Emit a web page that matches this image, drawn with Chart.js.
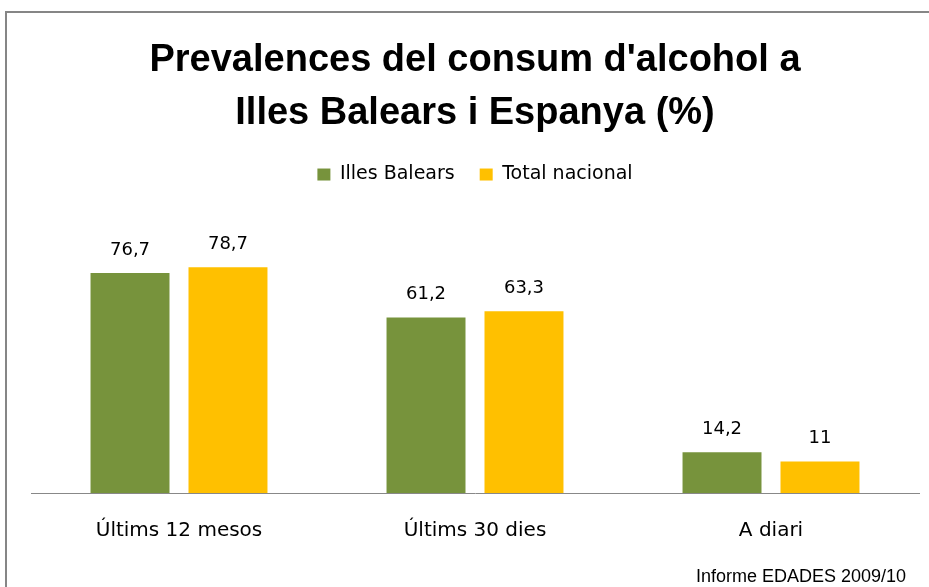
<!DOCTYPE html>
<html>
<head>
<meta charset="utf-8">
<script src="https://cdn.jsdelivr.net/npm/chart.js@4"></script>
<style>
  html, body { margin: 0; padding: 0; background: #fff; }
  #wrap { width: 929px; height: 587px; position: relative; }
</style>
</head>
<body>
<div id="wrap"><canvas id="chart" width="929" height="587"></canvas></div>
<script>
// categories and series
const categories = ["Últims 12 mesos", "Últims 30 dies", "A diari"];
const illesBalears = [76.7, 61.2, 14.2];
const totalNacional = [78.7, 63.3, 11];
const seriesNames = ["Illes Balears", "Total nacional"];
const titleLines = ["Prevalences del consum d'alcohol a", "Illes Balears i Espanya (%)"];
const sourceNote = "Informe EDADES 2009/10";

const FONT = "'Liberation Sans', Arial, sans-serif";
const WIDE = "'DejaVu Sans', sans-serif";

// frame round the whole chart (goes off the right and bottom edge)
const framePlugin = {
    id: "frame",
    beforeDraw(chart) {
        const ctx = chart.ctx;
        ctx.save();
        ctx.strokeStyle = "#868686";
        ctx.lineWidth = 2;
        ctx.strokeRect(6, 12, 960, 620);
        ctx.restore();
    }
};

// numbers above the bars, with a comma as decimal mark
const valueLabels = {
    id: "valueLabels",
    afterDatasetsDraw(chart) {
        const ctx = chart.ctx;
        ctx.save();
        ctx.font = "18px " + WIDE;
        ctx.fillStyle = "#000";
        ctx.textAlign = "center";
        ctx.textBaseline = "alphabetic";
        chart.data.datasets.forEach((ds, i) => {
            chart.getDatasetMeta(i).data.forEach((bar, j) => {
                const txt = String(ds.data[j]).replace(".", ",");
                ctx.fillText(txt, bar.x, bar.y - 18);
            });
        });
        ctx.restore();
    }
};

// source note bottom right
const sourcePlugin = {
    id: "source",
    afterDraw(chart) {
        const ctx = chart.ctx;
        ctx.save();
        ctx.font = "18px " + FONT;
        ctx.fillStyle = "#000";
        ctx.textAlign = "right";
        ctx.textBaseline = "alphabetic";
        ctx.fillText(sourceNote, 906, 582);
        ctx.restore();
    }
};

const data = {
    labels: categories,
    datasets: [{
            label: seriesNames[0],
            data: illesBalears,
            backgroundColor: "#77933C",
            borderWidth: 0
        },
        {
            label: seriesNames[1],
            data: totalNacional,
            backgroundColor: "#FFC000",
            borderWidth: 0
        }
    ]
};

const config = {
    type: "bar",
    data: data,
    options: {
        responsive: false,
        animation: false,
        categoryPercentage: 0.662,
        barPercentage: 0.806,
        layout: {
            padding: { left: 31, right: 10, top: 0, bottom: 18 }
        },
        plugins: {
            title: {
                display: true,
                text: titleLines,
                color: "#000",
                font: { family: FONT, size: 38, weight: "bold", lineHeight: 1.395 },
                padding: { top: 34, bottom: 0 }
            },
            legend: {
                display: true,
                position: "top",
                labels: {
                    color: "#000",
                    font: { family: WIDE, size: 19 },
                    boxWidth: 13,
                    boxHeight: 12,
                    padding: 25
                }
            },
            tooltip: { enabled: false }
        },
        scales: {
            x: {
                grid: { display: false, drawTicks: false },
                border: { display: true, color: "#888", width: 1 },
                ticks: {
                    color: "#000",
                    font: { family: WIDE, size: 20 },
                    padding: 26
                }
            },
            y: {
                display: false,
                min: 0,
                max: 104.2
            }
        }
    },
    plugins: [framePlugin, valueLabels, sourcePlugin]
};

const chart = new Chart(document.getElementById("chart").getContext("2d"), config);
</script>
</body>
</html>
